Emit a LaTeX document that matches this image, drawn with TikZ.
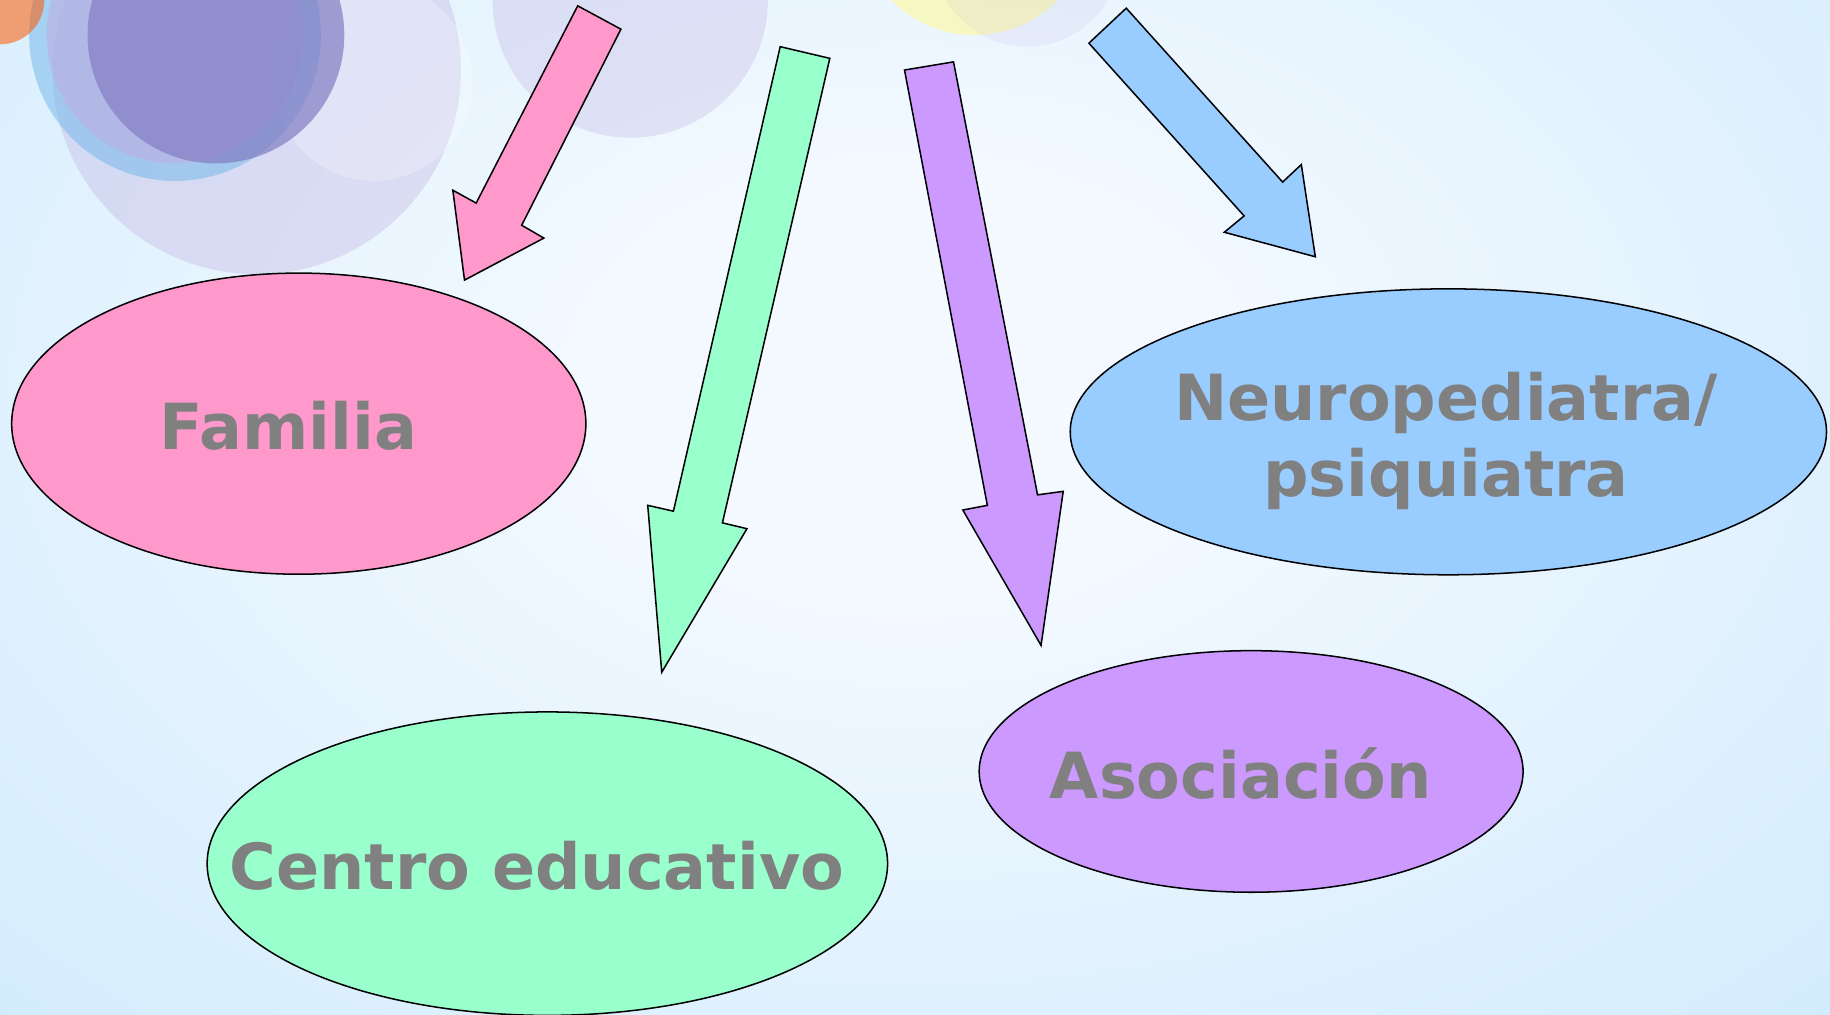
\documentclass[tikz,border=0pt]{standalone}
\usepackage{fontspec}
\setmainfont{DejaVu Sans}
\usetikzlibrary{shapes.geometric}
\definecolor{bgedge}{RGB}{198,231,252}
\definecolor{bgmid}{RGB}{243,249,255}
\definecolor{pinkf}{RGB}{255,153,204}
\definecolor{greenf}{RGB}{153,255,204}
\definecolor{purplef}{RGB}{204,153,255}
\definecolor{bluef}{RGB}{153,204,255}
\definecolor{txtgray}{RGB}{128,128,128}
\definecolor{lav}{RGB}{190,175,225}
\definecolor{deeplav}{RGB}{130,125,195}
\definecolor{ringblue}{RGB}{120,185,235}
\pgfdeclareradialshading{bgrad}{\pgfpoint{0bp}{0bp}}{color(0bp)=(bgmid); color(8bp)=(bgmid); color(44bp)=(bgedge); color(70bp)=(bgedge)}
\begin{document}
\begin{tikzpicture}[x=1pt,y=-1pt,
  blockarrow/.style={draw=black, line width=1.3pt, line join=miter},
  bubble/.style={ellipse, draw=black, line width=1.3pt, inner sep=0pt},
  lbl/.style={text=txtgray, font=\bfseries\fontsize{54.5}{65}\selectfont, align=center}]
\useasboundingbox (0,0) rectangle (1568,869);
\begin{scope}
\clip (0,0) rectangle (1568,869);
\fill[bgedge] (0,0) rectangle (1568,869);
\shade[shading=bgrad] (-60,-230) rectangle (1620,890);
% decorative translucent circles
\fill[lav, fill opacity=0.35] (220,60) circle [radius=175pt];
\fill[lav, fill opacity=0.30] (540,0) circle [radius=118pt];
\fill[white, fill opacity=0.25] (320,70) circle [radius=85pt];
\fill[ringblue, fill opacity=0.55] (150,30) circle [radius=125pt];
\fill[lav, fill opacity=0.6] (150,30) circle [radius=110pt];
\fill[deeplav, fill opacity=0.7] (185,30) circle [radius=110pt];
\fill[orange!70!red, fill opacity=0.55] (0,0) circle [radius=38pt];
\fill[yellow!40, fill opacity=0.6] (835,-70) circle [radius=100pt];
\fill[lav, fill opacity=0.15] (880,-40) circle [radius=80pt];
\end{scope}
% arrows
\path[blockarrow, fill=pinkf] (495,5) -- (532,25) -- (447,193) -- (466,204) -- (398,240) -- (388,163) -- (408,174) -- cycle;
\path[blockarrow, fill=greenf] (668.5,40) -- (711,50) -- (619,448) -- (640,453) -- (567,576) -- (555,433) -- (577,438) -- cycle;
\path[blockarrow, fill=purplef] (775,60) -- (817,53) -- (889,424) -- (911,421) -- (892,553) -- (825,437) -- (846,433) -- cycle;
\path[blockarrow, fill=bluef] (933,37) -- (965,7) -- (1099,156) -- (1115,141) -- (1127,220) -- (1049,199) -- (1066,185) -- cycle;
% bubbles
\node[bubble, fill=pinkf, minimum width=492pt, minimum height=258pt] (fam) at (256,363) {};
\node[bubble, fill=greenf, minimum width=583pt, minimum height=260pt] (cen) at (469,740) {};
\node[bubble, fill=purplef, minimum width=466pt, minimum height=207pt] (aso) at (1072,661) {};
\node[bubble, fill=bluef, minimum width=648pt, minimum height=245pt] (neu) at (1241,370) {};
% labels
\node[lbl] (tfam) at (247,365) {Familia};
\node[lbl] (tcen) at (460,742) {Centro educativo};
\node[lbl] (taso) at (1063,663) {Asociación};
\node[lbl] (tneu) at (1239,378) {Neuropediatra/\\psiquiatra};
\end{tikzpicture}
\end{document}
